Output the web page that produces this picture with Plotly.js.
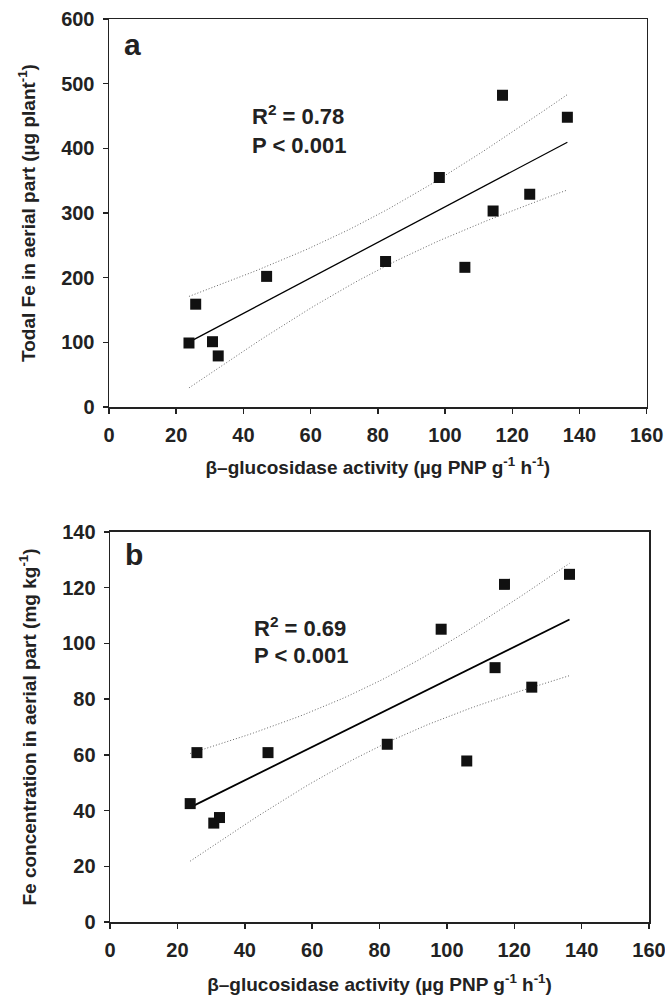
<!DOCTYPE html>
<html>
<head>
<meta charset="utf-8">
<script src="https://cdn.plot.ly/plotly-3.0.1.min.js"></script>
<style>html,body{margin:0;padding:0;background:#fff;}#chart{width:665px;height:1003px;}</style>
</head>
<body>
<div id="chart"></div>
<script>
// β-glucosidase activity (µg PNP g-1 h-1), shared by both panels
const glucosidase = [23.8, 25.8, 30.8, 32.5, 46.9, 82.3, 98.3, 105.9, 114.3, 117.1, 125.2, 136.4];
// Panel a: total Fe in aerial part (µg plant-1)
const totalFe = [99, 159, 101, 79, 202, 225, 355, 216, 303, 482, 329, 448];
// Panel b: Fe concentration in aerial part (mg kg-1)
const feConc = [42.5, 60.8, 35.5, 37.5, 60.8, 63.8, 105.1, 57.8, 91.3, 121.2, 84.3, 124.8];
// Tick labels
const xTicks = [0, 20, 40, 60, 80, 100, 120, 140, 160];
const yTicksA = [0, 100, 200, 300, 400, 500, 600];
const yTicksB = [0, 20, 40, 60, 80, 100, 120, 140];
const panelLabels = ["a", "b"];
const statsA = ["R<sup>2</sup> = 0.78", "P &lt; 0.001"];
const statsB = ["R<sup>2</sup> = 0.69", "P &lt; 0.001"];
const T_CRIT = 2.228; // t(0.975, df = 10)

const FONT = "Liberation Sans, Arial, Helvetica, sans-serif";

function fit(x, y) {
  const n = x.length;
  const mx = x.reduce((a, b) => a + b, 0) / n;
  const my = y.reduce((a, b) => a + b, 0) / n;
  let sxx = 0, sxy = 0;
  for (let i = 0; i < n; i++) { sxx += (x[i] - mx) ** 2; sxy += (x[i] - mx) * (y[i] - my); }
  const b = sxy / sxx, a = my - b * mx;
  let sse = 0;
  for (let i = 0; i < n; i++) sse += (y[i] - (a + b * x[i])) ** 2;
  const s = Math.sqrt(sse / (n - 2));
  const xmin = Math.min(...x), xmax = Math.max(...x);
  const xs = [], yl = [], yu = [], yh = [];
  const steps = 60;
  for (let k = 0; k <= steps; k++) {
    const xv = xmin + (xmax - xmin) * k / steps;
    const yv = a + b * xv;
    const hw = T_CRIT * s * Math.sqrt(1 / n + (xv - mx) ** 2 / sxx);
    xs.push(xv); yh.push(yv); yl.push(yv - hw); yu.push(yv + hw);
  }
  return { xs, yh, yl, yu };
}

function panelTraces(x, y, xa, ya, lw) {
  const f = fit(x, y);
  const band = { color: "#666", width: 1, dash: "1px,2px" };
  return [
    { x: f.xs, y: f.yu, xaxis: xa, yaxis: ya, mode: "lines", line: band, hoverinfo: "skip" },
    { x: f.xs, y: f.yl, xaxis: xa, yaxis: ya, mode: "lines", line: band, hoverinfo: "skip" },
    { x: f.xs, y: f.yh, xaxis: xa, yaxis: ya, mode: "lines", line: { color: "#000", width: lw } },
    { x: x, y: y, xaxis: xa, yaxis: ya, mode: "markers", marker: { symbol: "square", size: 11, color: "#111" } }
  ];
}

const data = [].concat(
  panelTraces(glucosidase, totalFe, "x", "y", 1.3),
  panelTraces(glucosidase, feConc, "x2", "y2", 1.8)
);

const tickFont = { family: FONT, size: 20, color: "#222" };
const titleFont = { family: FONT, size: 19, color: "#222" };
const xTitle = "<b>β–glucosidase activity (µg PNP g<sup>-1</sup> h<sup>-1</sup>)</b>";
const bold = v => "<b>" + v + "</b>";

function xAxis(domain, anchor, standoff) {
  return {
    domain: domain, anchor: anchor, range: [0, 160],
    tickmode: "array", tickvals: xTicks, ticktext: xTicks.map(bold),
    showgrid: false, zeroline: false, showline: true, mirror: true,
    linecolor: "#222", linewidth: 1.5, ticks: "outside", ticklen: 5, tickwidth: 1.5, tickcolor: "#222",
    tickfont: tickFont, ticklabelstandoff: 4, ticklabeloverflow: "allow",
    title: { text: xTitle, font: titleFont, standoff: standoff }
  };
}
function yAxis(domain, anchor, range, ticks, title) {
  return {
    domain: domain, anchor: anchor, range: range,
    tickmode: "array", tickvals: ticks, ticktext: ticks.map(bold),
    showgrid: false, zeroline: false, showline: true, mirror: true,
    linecolor: "#222", linewidth: 1.5, ticks: "outside", ticklen: 5, tickwidth: 1.5, tickcolor: "#222",
    tickfont: tickFont, ticklabelstandoff: 4, ticklabeloverflow: "allow",
    title: { text: bold(title), font: titleFont, standoff: 20 }
  };
}

function annots(xref, yref, label, labelY, stats, y1, y2) {
  const base = { xref: xref, yref: yref, showarrow: false, xanchor: "left", yanchor: "middle" };
  return [
    Object.assign({}, base, { x: 4.0, y: labelY, text: bold(label), font: { family: FONT, size: 30, color: "#222" } }),
    Object.assign({}, base, { x: 42, y: y1, text: bold(stats[0]), font: { family: FONT, size: 22, color: "#222" } }),
    Object.assign({}, base, { x: 42, y: y2, text: bold(stats[1]), font: { family: FONT, size: 22, color: "#222" } })
  ];
}

const layout = {
  width: 665, height: 1003,
  margin: { l: 109, r: 16, t: 19, b: 81 },
  paper_bgcolor: "#fff", plot_bgcolor: "#fff",
  showlegend: false,
  font: { family: FONT, color: "#222" },
  xaxis: xAxis([0, 0.9957], "y", 16),
  yaxis: yAxis([0.5703, 1], "x", [0, 600], yTicksA, "Todal Fe in aerial part (µg plant<sup>-1</sup>)"),
  xaxis2: xAxis([0.0019, 1], "y2", 18),
  yaxis2: yAxis([0, 0.4319], "x2", [0, 140], yTicksB, "Fe concentration in aerial part (mg kg<sup>-1</sup>)"),
  annotations: [].concat(
    annots("x", "y", panelLabels[0], 560, statsA, 452, 405),
    annots("x2", "y2", panelLabels[1], 132, statsB, 106, 95.5)
  )
};

Plotly.newPlot("chart", data, layout, { displayModeBar: false, staticPlot: true });
</script>
</body>
</html>
